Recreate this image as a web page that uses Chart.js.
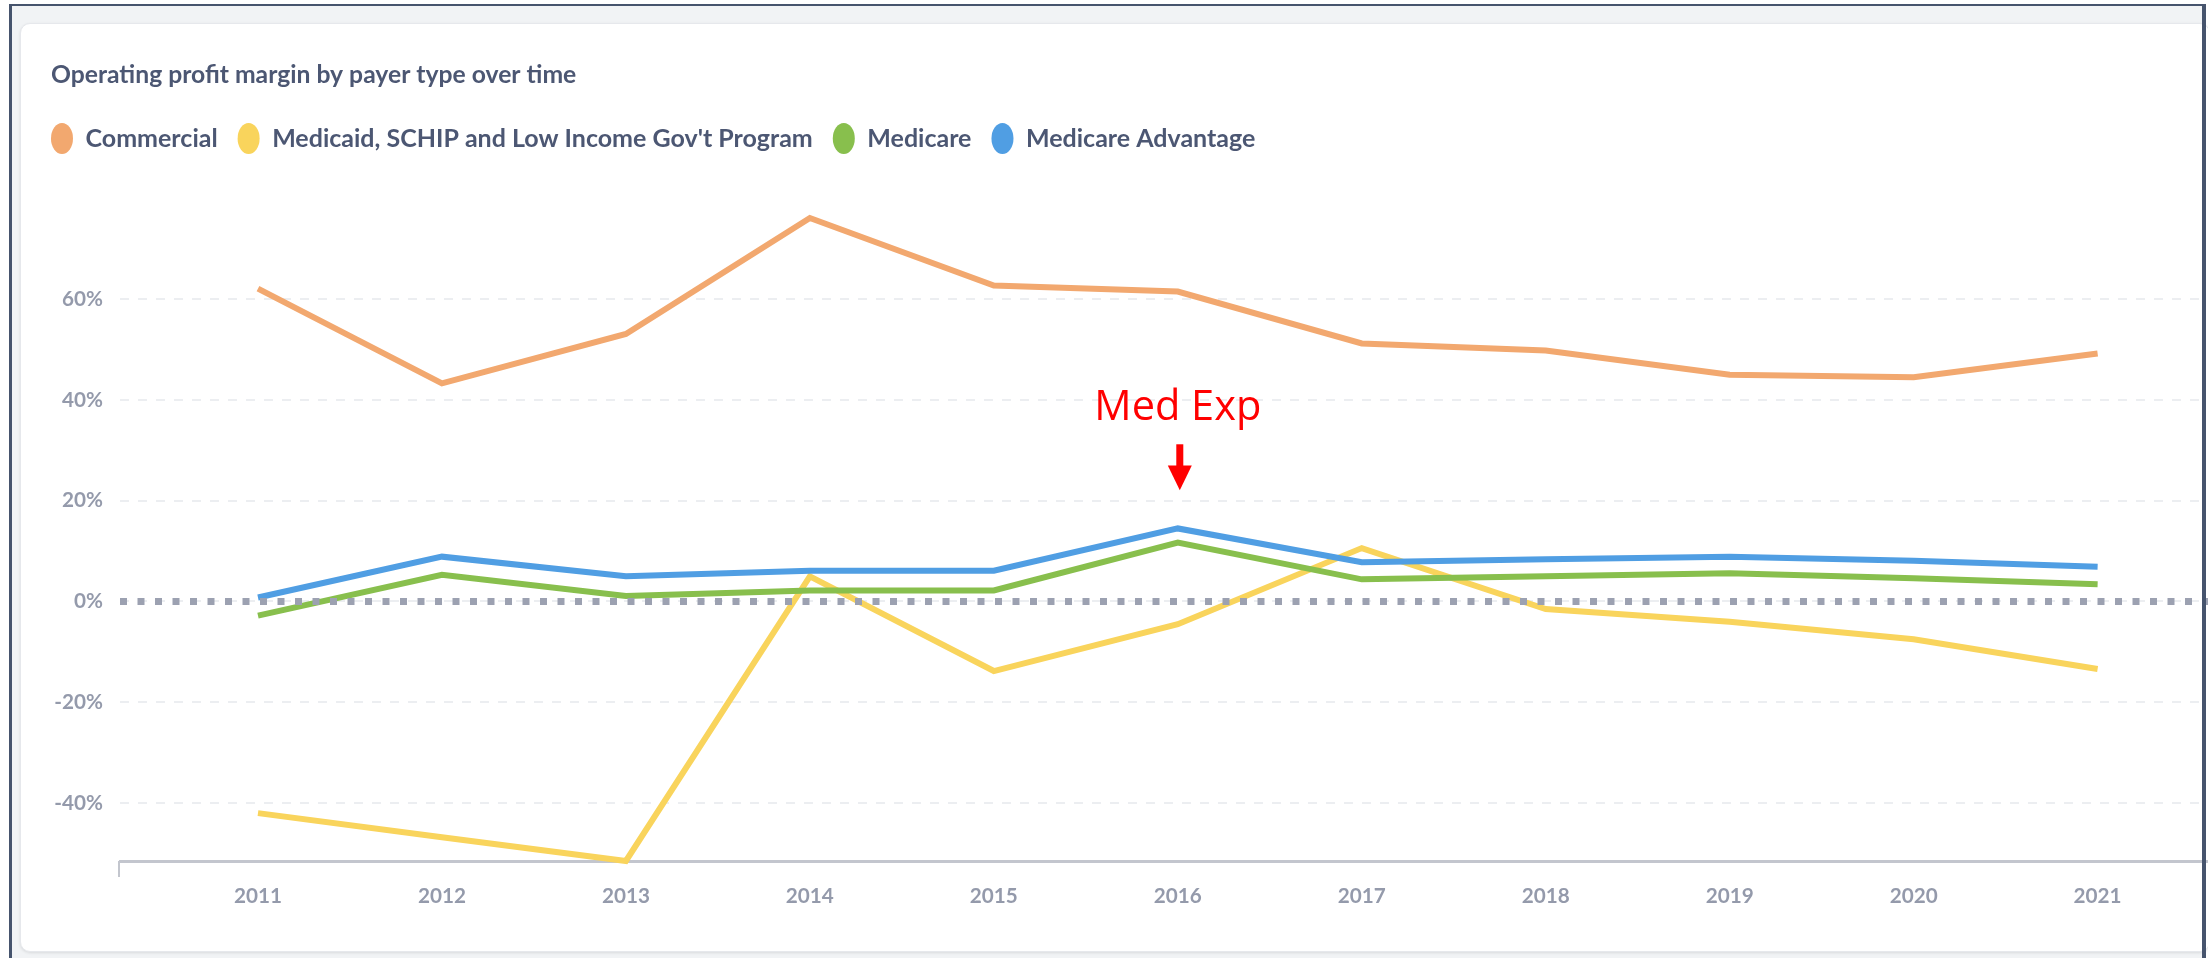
<!DOCTYPE html>
<html><head><meta charset="utf-8">
<script src="https://cdn.jsdelivr.net/npm/chart.js@4.4.0/dist/chart.umd.min.js"></script>
<style>
html,body{margin:0;padding:0;background:#fff;}
body{width:2208px;height:958px;position:relative;overflow:hidden;font-family:Lato,sans-serif;}
#bg{position:absolute;left:11px;top:6px;width:2195px;height:952px;background:#f1f3f5;}
#card{position:absolute;left:20px;top:23px;width:2190px;height:929px;background:#fff;border-radius:10px;box-shadow:0 1px 3px rgba(0,0,0,0.10);border:1px solid #e6e8ec;box-sizing:border-box;}
#frameTop{position:absolute;left:9px;top:4px;width:2197px;height:2px;background:#46546d;z-index:3}
#frameLeft{position:absolute;left:9px;top:4px;width:2.5px;height:954px;background:#46546d;z-index:3}
#frameRight{position:absolute;left:2202px;top:4px;width:4px;height:954px;background:#46546d;z-index:3}
#c{position:absolute;left:0;top:0;z-index:2}
</style>
</head><body>
<div id="bg"></div><div id="card"></div>
<canvas id="c" width="2208" height="958"></canvas>
<div id="frameTop"></div><div id="frameLeft"></div><div id="frameRight"></div>
<script>
const years = [2011, 2012, 2013, 2014, 2015, 2016, 2017, 2018, 2019, 2020, 2021];
const commercial = [62.1, 43.3, 53.1, 76.1, 62.7, 61.5, 51.2, 49.8, 45.0, 44.5, 49.2];
const medicaid = [-42.0, -46.8, -51.5, 5.0, -13.8, -4.5, 10.6, -1.5, -4.0, -7.5, -13.4];
const medicare = [-2.8, 5.3, 1.1, 2.2, 2.2, 11.7, 4.4, 5.0, 5.6, 4.6, 3.4];
const medicareAdvantage = [0.8, 8.9, 5.0, 6.1, 6.1, 14.5, 7.8, 8.4, 8.9, 8.1, 6.9];
const seriesNames = ['Commercial', "Medicaid, SCHIP and Low Income Gov't Program", 'Medicare', 'Medicare Advantage'];
const seriesColors = ['#F2A86F', '#F9D45C', '#88BF4D', '#509EE3'];
const yTickValues = [-40, -20, 0, 20, 40, 60];
const chartTitle = 'Operating profit margin by payer type over time';
const noteLabel = 'Med Exp';
const noteYear = 2016;

const FONT = 'Lato';
const TEXT_DARK = '#4c5773';
const TEXT_LIGHT = '#949aab';
const seriesValues = [commercial, medicaid, medicare, medicareAdvantage];

const datasets = seriesNames.map((name, i) => ({
  label: name,
  data: years.map((yr, j) => ({ x: yr, y: seriesValues[i][j] })),
  borderColor: seriesColors[i],
  backgroundColor: seriesColors[i],
  borderWidth: 6,
  pointRadius: 0,
  pointHoverRadius: 0,
  tension: 0,
  borderCapStyle: 'butt',
  fill: false,
  clip: false,
  order: seriesNames.length - i
}));

const shiftTitle = {
  id: 'shiftTitle',
  afterLayout(chart) {
    const pad = chart.options.plugins.legend.labels.padding;
    chart.titleBlock.left += pad;
    chart.titleBlock.right += pad;
  }
};

const zeroLine = {
  id: 'zeroLine',
  afterDatasetsDraw(chart) {
    const { ctx, chartArea, scales } = chart;
    const py = scales.y.getPixelForValue(0);
    ctx.save();
    ctx.strokeStyle = '#9ca1b1';
    ctx.lineWidth = 7;
    ctx.setLineDash([7, 10.5]);
    ctx.beginPath();
    ctx.moveTo(chartArea.left, py);
    ctx.lineTo(chartArea.right, py);
    ctx.stroke();
    ctx.restore();
  }
};

const axisCornerTick = {
  id: 'axisCornerTick',
  afterDraw(chart) {
    const { ctx, chartArea } = chart;
    ctx.save();
    ctx.strokeStyle = '#c3c6ce';
    ctx.lineWidth = 2;
    ctx.beginPath();
    ctx.moveTo(chartArea.left - 1, chartArea.bottom);
    ctx.lineTo(chartArea.left - 1, chartArea.bottom + 16);
    ctx.stroke();
    ctx.restore();
  }
};

const medExpNote = {
  id: 'medExpNote',
  afterDraw(chart) {
    const { ctx, scales } = chart;
    const x = scales.x.getPixelForValue(noteYear);
    const y = scales.y;
    ctx.save();
    ctx.fillStyle = '#ff0000';
    ctx.font = '400 41.5px "Open Sans"';
    ctx.textAlign = 'center';
    ctx.textBaseline = 'alphabetic';
    ctx.fillText(noteLabel, x, y.getPixelForValue(36));
    const yTop = y.getPixelForValue(31.2), yHead = y.getPixelForValue(27), yTip = y.getPixelForValue(22.1);
    const ax = x + 2;
    ctx.fillRect(ax - 3.5, yTop, 7, yHead - yTop + 1);
    ctx.beginPath();
    ctx.moveTo(ax - 12, yHead);
    ctx.lineTo(ax + 12, yHead);
    ctx.lineTo(ax, yTip);
    ctx.closePath();
    ctx.fill();
    ctx.restore();
  }
};

new Chart(document.getElementById('c'), {
  type: 'line',
  data: { datasets },
  plugins: [shiftTitle, zeroLine, axisCornerTick, medExpNote],
  options: {
    responsive: false,
    animation: false,
    events: [],
    layout: { padding: { left: 31, right: 0, top: 0, bottom: 37 } },
    plugins: {
      title: {
        display: true, text: chartTitle, align: 'start', color: TEXT_DARK,
        font: { family: FONT, size: 24.7, weight: '700', lineHeight: 1.2 },
        padding: { top: 60, bottom: 16.4 }
      },
      subtitle: {
        display: true, text: '', weight: 500,
        font: { size: 10, lineHeight: 1.2 },
        padding: { top: 45, bottom: 0 }
      },
      legend: {
        display: true, align: 'start',
        labels: {
          usePointStyle: true, pointStyle: 'circle', pointStyleWidth: 22, boxHeight: 22,
          padding: 20, color: TEXT_DARK,
          font: { family: FONT, size: 25, weight: '700' },
          generateLabels(chart) {
            const items = Chart.defaults.plugins.legend.labels.generateLabels(chart);
            items.forEach(it => { it.lineWidth = 0; it.strokeStyle = 'rgba(0,0,0,0)'; });
            return items.sort((a, b) => a.datasetIndex - b.datasetIndex);
          }
        }
      },
      tooltip: { enabled: false }
    },
    scales: {
      x: {
        type: 'linear', min: 2010.25, max: 2021.6,
        afterBuildTicks(s) { s.ticks = years.map(v => ({ value: v })); },
        afterFit(s) { s.height = 60; },
        ticks: {
          autoSkip: false, maxRotation: 0, minRotation: 0, padding: 23,
          color: TEXT_LIGHT, font: { family: FONT, size: 20.7, weight: '700' },
          callback: v => String(v)
        },
        grid: { display: false, drawTicks: false },
        border: { display: true, color: '#c3c6ce', width: 3 }
      },
      y: {
        type: 'linear', bounds: 'data',
        afterBuildTicks(s) { s.ticks = yTickValues.map(v => ({ value: v })); },
        afterFit(s) { s.width = 89; },
        ticks: {
          padding: 17, color: TEXT_LIGHT, font: { family: FONT, size: 20.7, weight: '700' },
          callback: v => v + '%'
        },
        grid: { color: '#eceef1', lineWidth: 2, drawTicks: false },
        border: { display: false, dash: [9, 9] }
      }
    }
  }
});
</script>
</body></html>
